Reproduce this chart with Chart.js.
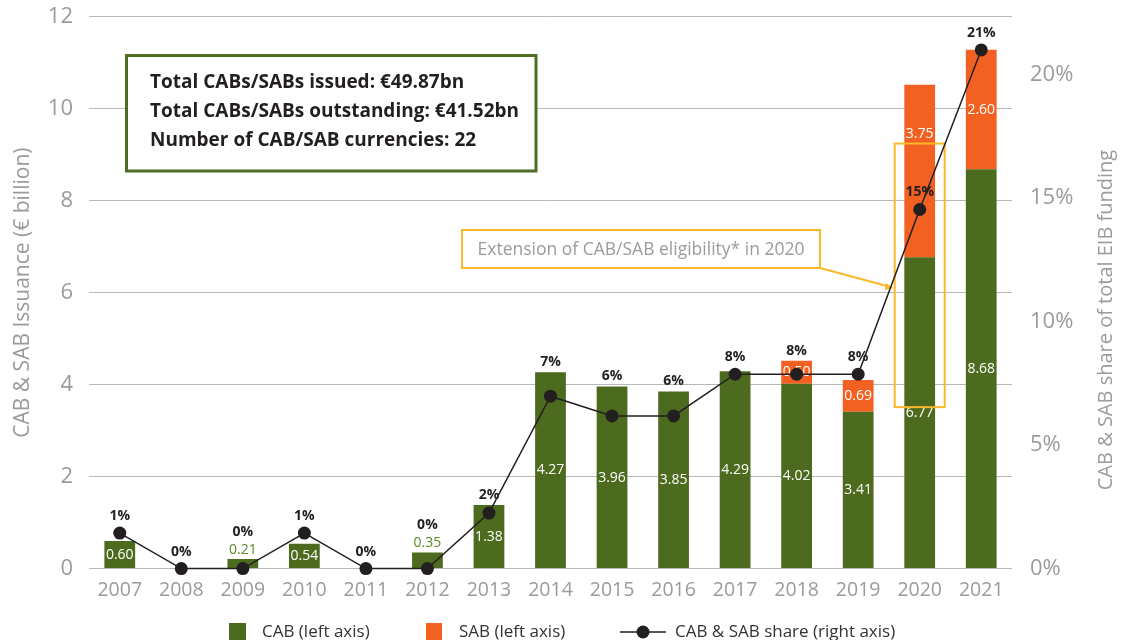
<!DOCTYPE html>
<html><head><meta charset="utf-8">
<script src="https://cdn.jsdelivr.net/npm/chart.js@4.4.1/dist/chart.umd.min.js"></script>
<style>html,body{margin:0;padding:0;background:#fff;overflow:hidden}canvas{display:block}</style>
</head><body>
<canvas id="c" width="1121" height="640"></canvas>
<script>
// ---- data ----
const years = ['2007','2008','2009','2010','2011','2012','2013','2014','2015','2016','2017','2018','2019','2020','2021'];
const cabValues = [0.60, 0, 0.21, 0.54, 0, 0.35, 1.38, 4.27, 3.96, 3.85, 4.29, 4.02, 3.41, 6.77, 8.68];
const sabValues = [0, 0, 0, 0, 0, 0, 0, 0, 0, 0, 0, 0.50, 0.69, 3.75, 2.60];
const shareValues = [1.44, 0, 0, 1.44, 0, 0, 2.25, 6.98, 6.18, 6.18, 7.87, 7.87, 7.87, 14.54, 21.0];
const leftTicks = [0, 2, 4, 6, 8, 10, 12];
const rightTicks = [0, 5, 10, 15, 20];
const rightAxisMax = 22.35;
const infoLines = ['Total CABs/SABs issued: €49.87bn', 'Total CABs/SABs outstanding: €41.52bn', 'Number of CAB/SAB currencies: 22'];
const noteText = 'Extension of CAB/SAB eligibility* in 2020';
const highlightYear = '2020';
const highlightRange = [3.51, 9.24];
const legendLabels = ['CAB (left axis)', 'SAB (left axis)', 'CAB & SAB share (right axis)'];
const leftTitle = 'CAB & SAB Issuance (€ billion)';
const rightTitle = 'CAB & SAB share of total EIB funding';

// ---- styles ----
const FONT = "'Open Sans', sans-serif";
const GREEN = '#4d6b1f', ORANGE = '#f26122', DARK = '#231f20', GRAY = '#9b9b9b', YELLOW = '#fbb829', BOXGREEN = '#4f6e23';
Chart.defaults.font.family = FONT;

function pctLabelY(chart, i) {
  const {y, y1} = chart.scales;
  const top = y.getPixelForValue(cabValues[i] + sabValues[i]);
  let effTop = top;
  if (cabValues[i] > 0 && cabValues[i] < 0.4) effTop = top - 17;
  const py = y1.getPixelForValue(shareValues[i]);
  let ly = py - 17;
  if (py - effTop < 50) ly = Math.min(ly, effTop - 10);
  return ly;
}

const overlay = {
  id: 'overlay',
  beforeDatasetsDraw(chart) {
    const ctx = chart.ctx;
    ctx.save();
    ctx.fillStyle = '#fff';
    ctx.fillRect(125, 54, 412, 118);
    ctx.strokeStyle = BOXGREEN; ctx.lineWidth = 3;
    ctx.strokeRect(126.5, 55.5, 409.5, 115.5);
    ctx.fillStyle = DARK; ctx.font = `bold 19px ${FONT}`;
    ctx.textAlign = 'left'; ctx.textBaseline = 'middle';
    infoLines.forEach((t, i) => ctx.fillText(t, 150, 83 + i * 29));
    ctx.restore();
  },
  beforeDatasetDraw(chart, args) {
    if (args.index !== 2) return;
    const {ctx, scales: {x, y}} = chart;
    ctx.save();
    ctx.textAlign = 'center'; ctx.textBaseline = 'middle';
    years.forEach((yr, i) => {
      const xc = x.getPixelForValue(i);
      const base = y.getPixelForValue(0);
      const cabTop = y.getPixelForValue(cabValues[i]);
      const top = y.getPixelForValue(cabValues[i] + sabValues[i]);
      ctx.font = `14px ${FONT}`;
      if (cabValues[i] > 0) {
        if (cabValues[i] >= 0.4) { ctx.fillStyle = '#fff'; ctx.fillText(cabValues[i].toFixed(2), xc, (cabTop + base) / 2); }
        else { ctx.fillStyle = '#5b8a24'; ctx.fillText(cabValues[i].toFixed(2), xc, cabTop - 9); }
      }
      if (sabValues[i] > 0) {
        let sy = (top + cabTop) / 2;
        const pl = pctLabelY(chart, i);
        if (pl > top && pl < cabTop && Math.abs(pl - sy) < 25) sy = (top + pl - 10) / 2;
        ctx.fillStyle = '#fff'; ctx.fillText(sabValues[i].toFixed(2), xc, sy);
      }
    });
    const hi = years.indexOf(highlightYear);
    const hx = x.getPixelForValue(hi);
    const t = y.getPixelForValue(highlightRange[1]), b = y.getPixelForValue(highlightRange[0]);
    ctx.strokeStyle = YELLOW; ctx.lineWidth = 2;
    ctx.strokeRect(hx - 25, t, 50, b - t);
    ctx.fillStyle = '#fff';
    ctx.fillRect(462, 230, 358, 38);
    ctx.strokeRect(462, 230, 358, 38);
    ctx.fillStyle = GRAY; ctx.font = `17.5px ${FONT}`;
    ctx.fillText(noteText, 641, 250);
    ctx.beginPath(); ctx.moveTo(820, 268); ctx.lineTo(hx - 29, 287); ctx.stroke();
    ctx.beginPath(); ctx.moveTo(hx - 26, 288); ctx.lineTo(hx - 34, 283); ctx.lineTo(hx - 35, 290); ctx.closePath();
    ctx.fillStyle = YELLOW; ctx.fill();
    ctx.restore();
  },
  afterDatasetsDraw(chart) {
    const {ctx, scales: {x}} = chart;
    ctx.save();
    ctx.textAlign = 'center'; ctx.textBaseline = 'middle';
    ctx.font = `bold 14px ${FONT}`; ctx.fillStyle = DARK;
    years.forEach((yr, i) => {
      ctx.fillText(Math.round(shareValues[i]) + '%', x.getPixelForValue(i), pctLabelY(chart, i));
    });
    ctx.restore();
  },
  afterDraw(chart) {
    const ctx = chart.ctx;
    ctx.save();
    ctx.translate(1106, 320); ctx.rotate(-Math.PI / 2);
    ctx.fillStyle = GRAY; ctx.font = `20px ${FONT}`;
    ctx.textAlign = 'center'; ctx.textBaseline = 'middle';
    ctx.fillText(rightTitle, 0, 0);
    ctx.restore();
    ctx.save();
    ctx.font = `17px ${FONT}`; ctx.textBaseline = 'middle'; ctx.textAlign = 'left';
    const ly = 632;
    ctx.fillStyle = GREEN; ctx.fillRect(229, 623, 17, 17);
    ctx.fillStyle = '#333'; ctx.fillText(legendLabels[0], 262, ly);
    ctx.fillStyle = ORANGE; ctx.fillRect(426, 623, 16, 17);
    ctx.fillStyle = '#333'; ctx.fillText(legendLabels[1], 459, ly);
    ctx.strokeStyle = DARK; ctx.lineWidth = 1.5;
    ctx.beginPath(); ctx.moveTo(620, ly); ctx.lineTo(666, ly); ctx.stroke();
    ctx.fillStyle = DARK; ctx.beginPath(); ctx.arc(643, ly, 6.5, 0, Math.PI * 2); ctx.fill();
    ctx.fillStyle = '#333'; ctx.fillText(legendLabels[2], 675, ly);
    ctx.restore();
  }
};

new Chart(document.getElementById('c'), {
  data: {
    labels: years,
    datasets: [
      { type: 'bar', label: 'CAB (left axis)', data: cabValues, backgroundColor: GREEN, yAxisID: 'y', order: 1, stack: 's', barPercentage: 0.5, categoryPercentage: 1.0 },
      { type: 'bar', label: 'SAB (left axis)', data: sabValues, backgroundColor: ORANGE, yAxisID: 'y', order: 1, stack: 's', barPercentage: 0.5, categoryPercentage: 1.0 },
      { type: 'line', label: 'CAB & SAB share (right axis)', data: shareValues, yAxisID: 'y1', order: 0, borderColor: DARK, borderWidth: 1.5, pointRadius: 6.5, pointBackgroundColor: DARK, pointBorderColor: DARK, pointBorderWidth: 0, tension: 0, clip: false }
    ]
  },
  options: {
    responsive: false, animation: false, events: [],
    layout: { padding: { top: 16.6, left: 0, right: 0, bottom: 0 } },
    plugins: { legend: { display: false }, tooltip: { enabled: false } },
    scales: {
      x: {
        stacked: true,
        grid: { display: false, drawTicks: false }, border: { display: false },
        ticks: { color: GRAY, font: { size: 19.5 }, padding: 10, maxRotation: 0, autoSkip: false },
        afterFit(s) { s.height = 71.4; s.paddingLeft = 0; s.paddingRight = 0; }
      },
      y: {
        stacked: true, position: 'left', min: 0, max: leftTicks[leftTicks.length - 1],
        afterBuildTicks(s) { s.ticks = leftTicks.map(v => ({ value: v })); },
        grid: { color: '#b8b8b8', lineWidth: 1, drawTicks: false }, border: { display: false },
        ticks: { color: GRAY, font: { size: 22 }, padding: 16 },
        title: { display: true, text: leftTitle, color: GRAY, font: { size: 21 }, padding: { top: 10, bottom: 0 } },
        afterFit(s) { s.width = 89; s.paddingTop = 0; s.paddingBottom = 0; }
      },
      y1: {
        position: 'right', min: 0, max: rightAxisMax,
        afterBuildTicks(s) { s.ticks = rightTicks.map(v => ({ value: v })); },
        grid: { display: false, drawTicks: false }, border: { display: false },
        ticks: { color: GRAY, font: { size: 22 }, padding: 18, callback: v => v + '%' },
        afterFit(s) { s.width = 109; s.paddingTop = 0; s.paddingBottom = 0; }
      }
    }
  },
  plugins: [overlay]
});
</script>
</body></html>
